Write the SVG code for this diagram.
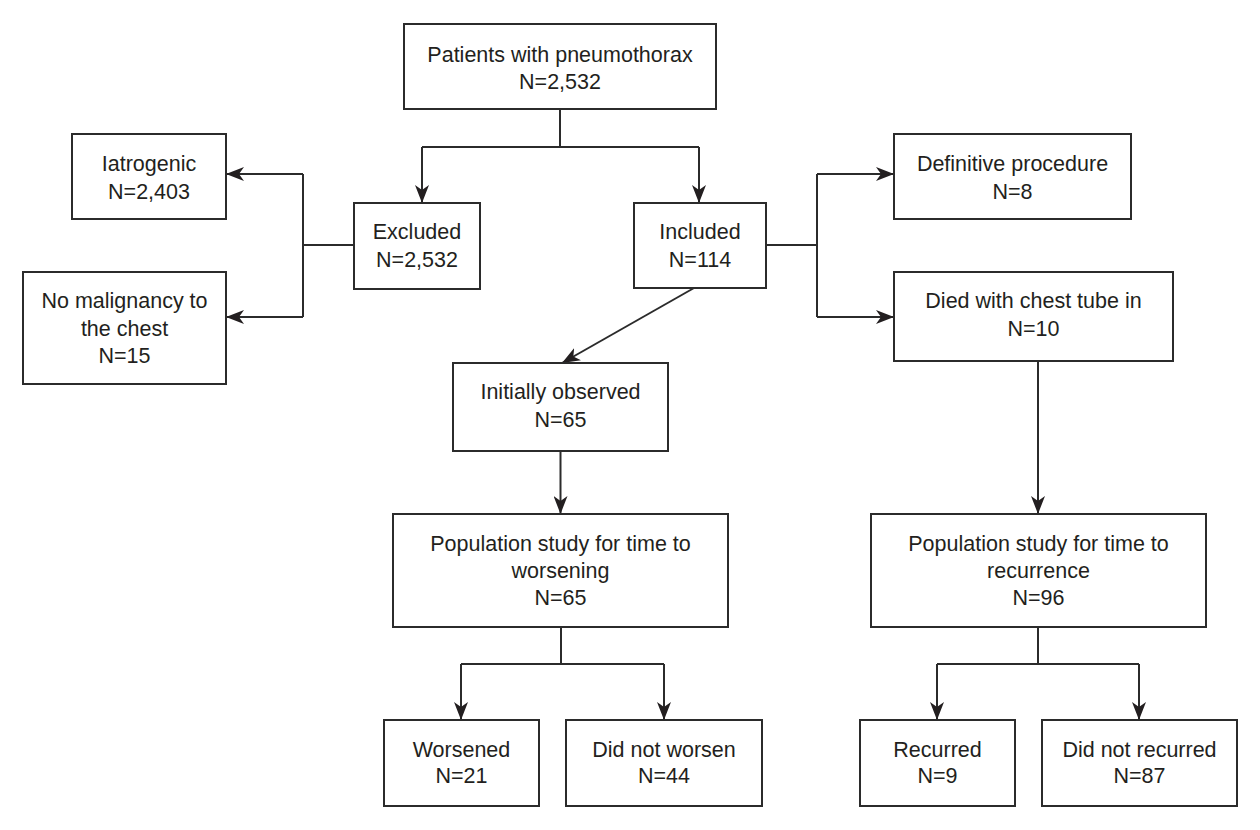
<svg xmlns="http://www.w3.org/2000/svg" width="1260" height="830" viewBox="0 0 1260 830">
<style>
.box{fill:#ffffff;stroke:#2b2b2b;stroke-width:2}
.t{font-family:"Liberation Sans",Arial,Helvetica,sans-serif;font-size:21.5px;fill:#231f20;text-anchor:middle}
.c{fill:none;stroke:#2b2b2b;stroke-width:2}
.a{marker-end:url(#arr)}
</style>
<defs>
<marker id="arr" markerUnits="userSpaceOnUse" viewBox="0 0 18 14" refX="18" refY="7" markerWidth="18" markerHeight="14" orient="auto">
<path d="M0,0 L18,7 L0,14 L5,7 Z" fill="#231f20"/>
</marker>
</defs>
<rect width="1260" height="830" fill="#ffffff"/>
<g id="connectors">
<path class="c" d="M560,109 V147 M422,147 H699"/>
<path class="c a" d="M422,147 V203"/>
<path class="c a" d="M699,147 V203"/>
<path class="c" d="M354,245 H303 M303,174 V317"/>
<path class="c a" d="M303,174 H226"/>
<path class="c a" d="M303,317 H226"/>
<path class="c" d="M766,245 H817 M817,174 V317"/>
<path class="c a" d="M817,174 H894"/>
<path class="c a" d="M817,317 H894"/>
<path class="c a" d="M694,288 L562,363"/>
<path class="c a" d="M560.5,451 V514"/>
<path class="c a" d="M1038,361 V514"/>
<path class="c" d="M561,627 V664 M461,664 H664"/>
<path class="c a" d="M461,664 V720"/>
<path class="c a" d="M664,664 V720"/>
<path class="c" d="M1038,627 V664 M937,664 H1139"/>
<path class="c a" d="M937,664 V720"/>
<path class="c a" d="M1139,664 V720"/>
</g>
<g id="patients">
<rect class="box" x="404" y="24" width="312" height="85"/>
<text class="t" x="560" y="62">Patients with pneumothorax</text>
<text class="t" x="560" y="89">N=2,532</text>
</g>
<g id="iatrogenic">
<rect class="box" x="72" y="134" width="154" height="85"/>
<text class="t" x="149" y="171">Iatrogenic</text>
<text class="t" x="149" y="199">N=2,403</text>
</g>
<g id="nomalignancy">
<rect class="box" x="23" y="272" width="203" height="112"/>
<text class="t" x="124.5" y="308">No malignancy to</text>
<text class="t" x="124.5" y="336">the chest</text>
<text class="t" x="124.5" y="363">N=15</text>
</g>
<g id="excluded">
<rect class="box" x="354" y="203" width="126" height="86"/>
<text class="t" x="417" y="239">Excluded</text>
<text class="t" x="417" y="267">N=2,532</text>
</g>
<g id="included">
<rect class="box" x="634" y="203" width="132" height="85"/>
<text class="t" x="700" y="239">Included</text>
<text class="t" x="700" y="267">N=114</text>
</g>
<g id="definitive">
<rect class="box" x="894" y="134" width="237" height="85"/>
<text class="t" x="1012.5" y="171">Definitive procedure</text>
<text class="t" x="1012.5" y="199">N=8</text>
</g>
<g id="died">
<rect class="box" x="894" y="272" width="279" height="89"/>
<text class="t" x="1033.5" y="308">Died with chest tube in</text>
<text class="t" x="1033.5" y="336">N=10</text>
</g>
<g id="initially">
<rect class="box" x="453" y="363" width="215" height="88"/>
<text class="t" x="560.5" y="399">Initially observed</text>
<text class="t" x="560.5" y="427">N=65</text>
</g>
<g id="popworsening">
<rect class="box" x="393" y="514" width="335" height="113"/>
<text class="t" x="560.5" y="551">Population study for time to</text>
<text class="t" x="560.5" y="578">worsening</text>
<text class="t" x="560.5" y="605">N=65</text>
</g>
<g id="poprecurrence">
<rect class="box" x="871" y="514" width="335" height="113"/>
<text class="t" x="1038.5" y="551">Population study for time to</text>
<text class="t" x="1038.5" y="578">recurrence</text>
<text class="t" x="1038.5" y="605">N=96</text>
</g>
<g id="worsened">
<rect class="box" x="384" y="720" width="155" height="86"/>
<text class="t" x="461.5" y="757">Worsened</text>
<text class="t" x="461.5" y="783">N=21</text>
</g>
<g id="didnotworsen">
<rect class="box" x="566" y="720" width="196" height="86"/>
<text class="t" x="664" y="757">Did not worsen</text>
<text class="t" x="664" y="783">N=44</text>
</g>
<g id="recurred">
<rect class="box" x="860" y="720" width="155" height="86"/>
<text class="t" x="937.5" y="757">Recurred</text>
<text class="t" x="937.5" y="783">N=9</text>
</g>
<g id="didnotrecurred">
<rect class="box" x="1042" y="720" width="195" height="86"/>
<text class="t" x="1139.5" y="757">Did not recurred</text>
<text class="t" x="1139.5" y="783">N=87</text>
</g>
</svg>
